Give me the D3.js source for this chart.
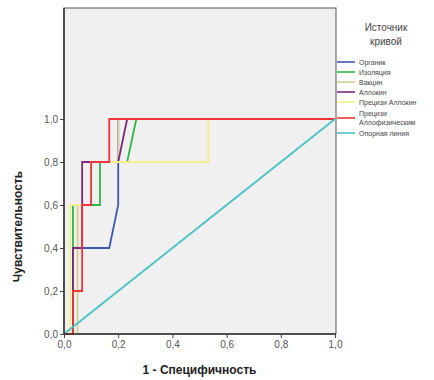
<!DOCTYPE html>
<html>
<head>
<meta charset="utf-8">
<script src="https://cdn.jsdelivr.net/npm/d3@7"></script>
<style>
  body { margin: 0; background: #fff; }
  svg { font-family: "Liberation Sans", Arial, sans-serif; }
</style>
</head>
<body>
<div id="chart"></div>
<script>
// ROC curves, 1 - specificity (fpr) vs sensitivity (tpr)
const seriesNames = ['Органик', 'Изоляция', 'Вакцин', 'Аллокин', 'Прецизи Аллокин', 'Прецизи Аллофизическим', 'Опорная линия'];
const seriesColors = ['#3e58ac', '#2eb848', '#d3ce97', '#7c287d', '#f3f08a', '#ef3338', '#48c2c5'];

const organikFpr = [0, 0.033, 0.033, 0.167, 0.2, 0.2, 1];
const organikTpr = [0, 0, 0.4, 0.4, 0.6, 1, 1];

const izolFpr = [0, 0.033, 0.033, 0.133, 0.133, 0.233, 0.267, 1];
const izolTpr = [0, 0, 0.6, 0.6, 0.8, 0.8, 1, 1];

const vakcinFpr = [0, 0.05, 0.05, 0.1, 0.1, 0.2, 0.2, 1];
const vakcinTpr = [0, 0, 0.6, 0.6, 0.8, 0.8, 1, 1];

const allokinFpr = [0, 0.033, 0.033, 0.067, 0.067, 0.2, 0.233, 1];
const allokinTpr = [0, 0, 0.4, 0.4, 0.8, 0.8, 1, 1];

const precAllokinFpr = [0, 0.022, 0.022, 0.1, 0.1, 0.533, 0.533, 1];
const precAllokinTpr = [0, 0, 0.6, 0.6, 0.8, 0.8, 1, 1];

const precFizFpr = [0, 0.033, 0.033, 0.067, 0.067, 0.1, 0.1, 0.167, 0.167, 1];
const precFizTpr = [0, 0, 0.2, 0.2, 0.6, 0.6, 0.8, 0.8, 1, 1];

const refFpr = [0, 1];
const refTpr = [0, 1];

const tickValues = [0, 0.2, 0.4, 0.6, 0.8, 1.0];
const xTitle = '1 - Специфичность';
const yTitle = 'Чувствительность';
const legendTitle = ['Источник', 'кривой'];

const series = [
  [organikFpr, organikTpr],
  [izolFpr, izolTpr],
  [vakcinFpr, vakcinTpr],
  [allokinFpr, allokinTpr],
  [precAllokinFpr, precAllokinTpr],
  [precFizFpr, precFizTpr],
  [refFpr, refTpr]
].map((s, i) => ({
  name: seriesNames[i],
  color: seriesColors[i],
  points: s[0].map((x, j) => ({x: x, y: s[1][j]}))
}));

const dimensions = {
  width: 434,
  height: 380,
  left: 64,
  right: 336,
  top: 8,
  bottom: 334,
  yOne: 119
};

const svg = d3.select('#chart')
  .append('svg')
  .attr('width', dimensions.width)
  .attr('height', dimensions.height);

const xScale = d3.scaleLinear()
  .domain([0, 1])
  .range([dimensions.left, 335]);

const yScale = d3.scaleLinear()
  .domain([0, 1])
  .range([dimensions.bottom, dimensions.yOne]);

// plot background
svg.append('rect')
  .attr('x', dimensions.left)
  .attr('y', dimensions.top)
  .attr('width', dimensions.right - dimensions.left)
  .attr('height', dimensions.bottom - dimensions.top)
  .attr('fill', '#f0f0f0')
  .attr('stroke', '#555')
  .attr('stroke-width', 1);

// curves
const line = d3.line()
  .x(d => xScale(d.x))
  .y(d => yScale(d.y));

svg.append('g')
  .selectAll('path')
  .data(series)
  .join('path')
  .attr('d', d => line(d.points))
  .attr('fill', 'none')
  .attr('stroke', d => d.color)
  .attr('stroke-width', 1.8);

const fmt = d => d3.format('.1f')(d).replace('.', ',');

const xAxis = d3.axisBottom(xScale)
  .tickValues(tickValues)
  .tickFormat(fmt)
  .tickSize(4)
  .tickPadding(3);

const yAxis = d3.axisLeft(yScale)
  .tickValues(tickValues)
  .tickFormat(fmt)
  .tickSize(4)
  .tickPadding(2);

const xAxisGroup = svg.append('g')
  .attr('transform', `translate(0, ${dimensions.bottom})`)
  .call(xAxis);

const yAxisGroup = svg.append('g')
  .attr('transform', `translate(${dimensions.left}, 0)`)
  .call(yAxis);

[xAxisGroup, yAxisGroup].forEach(g => {
  g.select('.domain').remove();
  g.selectAll('line').attr('stroke', '#444');
  g.selectAll('text')
    .attr('fill', '#555')
    .style('font-size', '10px')
    .style('font-family', '"Liberation Sans", Arial, sans-serif');
});

// axis lines drawn darker over the frame
svg.append('line')
  .attr('x1', dimensions.left).attr('x2', dimensions.right)
  .attr('y1', dimensions.bottom).attr('y2', dimensions.bottom)
  .attr('stroke', '#333').attr('stroke-width', 1.5);
svg.append('line')
  .attr('x1', dimensions.left).attr('x2', dimensions.left)
  .attr('y1', dimensions.top).attr('y2', dimensions.bottom)
  .attr('stroke', '#333').attr('stroke-width', 1.5);

// axis titles
svg.append('text')
  .attr('x', (dimensions.left + 335) / 2)
  .attr('y', 374)
  .attr('text-anchor', 'middle')
  .style('font-size', '12px')
  .style('font-weight', 'bold')
  .attr('fill', '#222')
  .text(xTitle);

svg.append('text')
  .attr('transform', `translate(22, ${(dimensions.bottom + dimensions.yOne) / 2}) rotate(-90)`)
  .attr('text-anchor', 'middle')
  .style('font-size', '12px')
  .style('font-weight', 'bold')
  .attr('fill', '#222')
  .text(yTitle);

// legend
const legend = svg.append('g');

legend.selectAll('text.title')
  .data(legendTitle)
  .join('text')
  .attr('class', 'title')
  .attr('x', 386)
  .attr('y', (d, i) => 31 + i * 14)
  .attr('text-anchor', 'middle')
  .style('font-size', '10px')
  .attr('fill', '#444')
  .text(d => d);

const legendY = [62, 72, 82, 92, 102, 118, 133];

const items = legend.selectAll('g.item')
  .data(series)
  .join('g')
  .attr('class', 'item')
  .attr('transform', (d, i) => `translate(337, ${legendY[i]})`);

items.append('line')
  .attr('x1', 0).attr('x2', 18)
  .attr('y1', 0).attr('y2', 0)
  .attr('stroke', d => d.color)
  .attr('stroke-width', 1.6);

items.each(function(d) {
  const g = d3.select(this);
  const words = d.name === 'Прецизи Аллофизическим' ? ['Прецизи', 'Аллофизическим'] : [d.name];
  const offset = words.length > 1 ? -4.5 : 0;
  g.selectAll('text')
    .data(words)
    .join('text')
    .attr('x', 22)
    .attr('y', (w, i) => offset + i * 9 + 2.5)
    .style('font-size', '7px')
    .attr('fill', '#444')
    .text(w => w);
});
</script>
</body>
</html>
